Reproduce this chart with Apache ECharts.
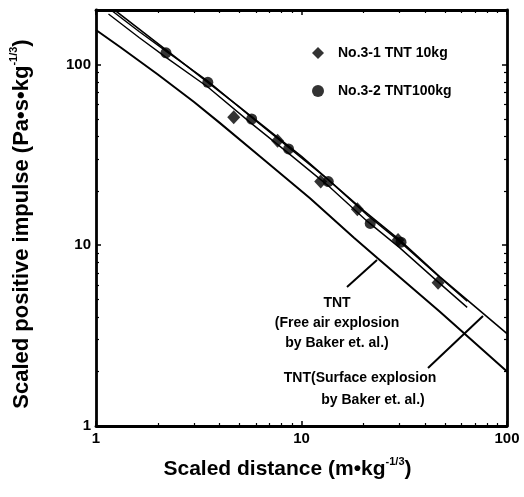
<!DOCTYPE html>
<html>
<head>
<meta charset="utf-8">
<script src="https://cdn.jsdelivr.net/npm/echarts@6/dist/echarts.min.js"></script>
<style>
  html, body { margin: 0; padding: 0; background: #fff; }
  #chart { width: 524px; height: 497px; }
</style>
</head>
<body>
<div id="chart"></div>
<script>
// measured points [scaled distance, scaled impulse]
const tnt10kg = [[4.68, 51], [7.65, 37.8], [12.4, 22.5], [18.7, 15.8], [29.5, 10.7], [46.2, 6.2]];
const tnt100kg = [[2.19, 116], [3.5, 79.6], [5.72, 49.9], [8.65, 34.1], [13.5, 22.5], [21.6, 13.2], [30.5, 10.4]];

// fitted lines through the measurements
const fit100 = [[1.15, 205], [1.62, 152], [2.2, 118], [3.5, 81], [5.7, 51], [8.6, 35], [13.5, 23], [21, 14.6], [30, 10.5], [45, 6.95], [64, 4.9]];
const fit10 = [[1.15, 190], [1.62, 141], [2.2, 109], [3.5, 75], [5.7, 47.2], [8.6, 32.4], [13.5, 21.3], [21, 13.5], [30, 9.7], [45, 6.43], [64, 4.53]];

// Baker et al. reference curves
const bakerSurface = [[1, 240], [2.2, 120], [5, 58], [10, 31], [20, 15.6], [30, 10.7], [47, 6.7], [100, 3.24]];
const bakerFreeAir = [[1, 155], [1.32, 124], [2, 88], [3, 62], [4, 47.5], [6.5, 30], [11, 18.2], [18, 11.0], [23.4, 8.5], [47, 4.3], [100, 2.0]];

const xTickLabels = [1, 10, 100];
const yTickLabels = [1, 10, 100];

const font = '"Liberation Sans", Arial, sans-serif';

const chart = echarts.init(document.getElementById('chart'));

function logAxis(pos, min, max, labels, show) {
  return {
    type: 'log',
    logBase: 10,
    position: pos,
    min: min,
    max: max,
    axisLine: { show: true, lineStyle: { color: '#000', width: 2.8 } },
    axisTick: { show: true, inside: true, length: 5, lineStyle: { color: '#000', width: 1.5 } },
    minorTick: { show: true, splitNumber: 9, length: 3, lineStyle: { color: '#000', width: 1.2 } },
    splitLine: { show: false },
    minorSplitLine: { show: false },
    axisLabel: {
      show: show,
      margin: 5,
      color: '#000',
      fontFamily: font,
      fontWeight: 'bold',
      fontSize: 15,
      formatter: v => labels.includes(v) ? String(v) : ''
    }
  };
}

function nameStyle(size, pad) {
  return {
    padding: pad,
    rich: {
      a: { fontFamily: font, fontWeight: 'bold', fontSize: size, color: '#000', lineHeight: size + 5 },
      s: { fontFamily: font, fontWeight: 'bold', fontSize: 11, color: '#000', lineHeight: 13, verticalAlign: 'top' }
    }
  };
}

const xBottom = logAxis('bottom', 1, 100, xTickLabels, true);
xBottom.name = '{a|Scaled distance (m•kg}{s|-1/3}{a|)}';
xBottom.nameLocation = 'middle';
xBottom.nameGap = 30;
xBottom.nameTextStyle = nameStyle(21, [0, 28, 0, 0]);

const yLeft = logAxis('left', 1, 200, yTickLabels, true);
yLeft.name = '{a|Scaled positive impulse (Pa•s•kg}{s|-1/3}{a|)}';
yLeft.nameLocation = 'middle';
yLeft.nameGap = 61;
yLeft.nameTextStyle = nameStyle(22, [0, 12, 0, 0]);

const lineBase = { type: 'line', symbol: 'none', silent: true, clip: true, z: 2 };
const annotFont = 'bold 14px ' + font;

chart.setOption({
  backgroundColor: '#fff',
  animation: false,
  grid: { left: 95, right: 17, top: 10, bottom: 71 },
  xAxis: [xBottom, logAxis('top', 1, 100, xTickLabels, false)],
  yAxis: [yLeft, logAxis('right', 1, 200, yTickLabels, false)],
  legend: {
    data: ['No.3-1 TNT 10kg', 'No.3-2 TNT100kg'],
    orient: 'vertical',
    left: 307,
    top: 41,
    itemGap: 24,
    itemWidth: 12,
    itemHeight: 12,
    textStyle: { fontFamily: font, fontWeight: 'bold', fontSize: 14, color: '#000', padding: [0, 0, 0, 9] }
  },
  series: [
    Object.assign({}, lineBase, { name: 'Baker free air', data: bakerFreeAir, lineStyle: { color: '#000', width: 2 } }),
    Object.assign({}, lineBase, { name: 'Baker surface', data: bakerSurface, lineStyle: { color: '#000', width: 1.6 } }),
    Object.assign({}, lineBase, { name: 'fit 10kg', data: fit10, lineStyle: { color: '#000', width: 1.4 } }),
    Object.assign({}, lineBase, { name: 'fit 100kg', data: fit100, lineStyle: { color: '#000', width: 1.4 } }),
    {
      name: 'No.3-1 TNT 10kg',
      type: 'scatter',
      symbol: 'diamond',
      symbolSize: [13, 14],
      itemStyle: { color: '#000' },
      data: tnt10kg,
      z: 3
    },
    {
      name: 'No.3-2 TNT100kg',
      type: 'scatter',
      symbol: 'circle',
      symbolSize: 11,
      itemStyle: { color: '#000' },
      data: tnt100kg,
      z: 3
    }
  ],
  graphic: [
    {
      type: 'text', x: 337, y: 293,
      style: {
        text: 'TNT\n(Free air explosion\nby Baker et. al.)',
        align: 'center', verticalAlign: 'top', lineHeight: 20,
        font: annotFont, fill: '#000'
      }
    },
    {
      type: 'text', x: 360, y: 371,
      style: { text: 'TNT(Surface explosion', align: 'center', verticalAlign: 'top', font: annotFont, fill: '#000' }
    },
    {
      type: 'text', x: 373, y: 393,
      style: { text: 'by Baker et. al.)', align: 'center', verticalAlign: 'top', font: annotFont, fill: '#000' }
    },
    {
      type: 'line',
      shape: { x1: 347, y1: 287, x2: 377, y2: 260 },
      style: { stroke: '#000', lineWidth: 2 }
    },
    {
      type: 'line',
      shape: { x1: 428, y1: 368, x2: 483, y2: 316 },
      style: { stroke: '#000', lineWidth: 2 }
    }
  ]
});
</script>
</body>
</html>
